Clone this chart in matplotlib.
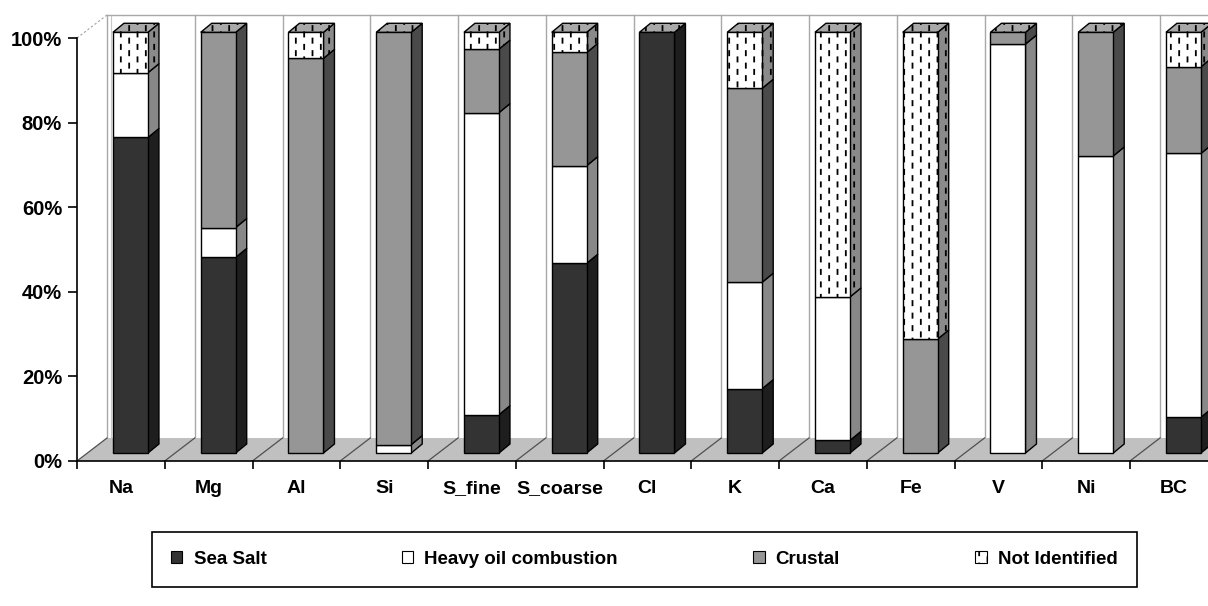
import numpy as np
import matplotlib
matplotlib.use('Agg')
import matplotlib.pyplot as plt
from matplotlib.patches import Polygon, Patch
from matplotlib.path import Path
import matplotlib.hatch as mhatch

# ---------------- data ----------------
categories = ['Na', 'Mg', 'Al', 'Si', 'S_fine', 'S_coarse', 'Cl', 'K', 'Ca', 'Fe', 'V', 'Ni', 'BC']
sea_salt = [75.0, 46.5, 0.0, 0.0, 9.1, 45.1, 100.0, 15.3, 3.0, 0.0, 0.0, 0.0, 8.5]
heavy_oil = [15.4, 7.1, 0.0, 2.0, 71.8, 23.2, 0.0, 25.3, 34.1, 0.0, 97.2, 70.6, 62.7]
crustal = [0.0, 46.4, 93.8, 98.0, 15.1, 26.9, 0.0, 46.1, 0.0, 27.1, 2.8, 29.4, 20.6]
not_identified = [9.6, 0.0, 6.2, 0.0, 4.0, 4.8, 0.0, 13.3, 62.9, 72.9, 0.0, 0.0, 8.2]
series_names = ['Sea Salt', 'Heavy oil combustion', 'Crustal', 'Not Identified']
ytick_values = [0, 20, 40, 60, 80, 100]
ytick_labels = ['0%', '20%', '40%', '60%', '80%', '100%']


# ---------------- dashed hatch (replaces '|') ----------------
class DashHatch(mhatch.HatchPatternBase):
    def __init__(self, hatch, density):
        self.ncol = 12 if hatch.count('|') else 0
        self.nrow = 8
        self.num_vertices = self.ncol * self.nrow * 2

    def set_vertices_and_codes(self, vertices, codes):
        k = 0
        L = 0.042
        for c in range(self.ncol):
            x = (c + 0.5) / self.ncol
            off = 0.5 if c % 2 else 0.0
            for r in range(self.nrow):
                y0 = (r + off) / self.nrow + 0.01
                vertices[k] = (x, y0)
                vertices[k + 1] = (x, y0 + L)
                codes[k] = Path.MOVETO
                codes[k + 1] = Path.LINETO
                k += 2


mhatch._hatch_types = [DashHatch if t is mhatch.VerticalHatch else t
                       for t in mhatch._hatch_types]

plt.rcParams['font.family'] = ['Liberation Sans', 'DejaVu Sans']
plt.rcParams['font.weight'] = 'bold'
plt.rcParams['hatch.linewidth'] = 1.3

W, H = 1208, 606
fig = plt.figure(figsize=(W / 100, H / 100), dpi=100)
ax = fig.add_axes([77 / W, 145 / H, 1140.75 / W, 423 / H])
ax.set_xlim(-0.5, 12.5)
ax.set_ylim(0, 100)

# 3D geometry (style constants, in data units)
WX, WY = 0.342, 5.44          # back wall offset
BAR_X0 = 0.41                 # front face left offset from category boundary
BAR_W = 0.399                 # front face width
SX, SY = 0.125, 2.13          # bar side depth
BAR_BASE, BAR_SCALE = 1.89, 0.9946

n = len(categories)
bounds = np.arange(n + 1) - 0.5

# floor
floor = Polygon([(-0.5, 0), (n + 1, 0), (n + 1 + WX, WY), (-0.5 + WX, WY)],
                closed=True, facecolor='#c0c0c0', edgecolor='none',
                zorder=0.5, clip_on=False)
ax.add_patch(floor)
for b in bounds:
    ax.plot([b, b + WX], [0, WY], color='#505050', lw=0.9, zorder=0.6, clip_on=False)
    ax.plot([b + WX, b + WX], [WY, 100 + WY], color='#a8a8a8', lw=1.0,
            zorder=0.4, clip_on=False)
ax.plot([-0.5 + WX + 0.045] * 2, [WY, 100 + WY], color='#c8c8c8', lw=0.8,
        zorder=0.4, clip_on=False)
ax.plot([-0.5 + WX, n + 1], [100 + WY, 100 + WY], color='#a8a8a8', lw=1.0,
        zorder=0.4, clip_on=False)
ax.plot([-0.5, -0.5 + WX], [100, 100 + WY], color='#a0a0a0', lw=0.8,
        ls=(0, (2, 2)), zorder=0.4, clip_on=False)

# series styles
front_col = ['#333333', '#ffffff', '#969696', '#ffffff']
side_col = ['#1e1e1e', '#888888', '#4a4a4a', '#8a8a8a']
hatches = [None, None, None, '|']
series = [sea_salt, heavy_oil, crustal, not_identified]

for i in range(n):
    x0 = i - 0.5 + BAR_X0
    x1 = x0 + BAR_W
    cum = 0.0
    for s in range(4):
        v = series[s][i]
        if v <= 0:
            continue
        yb = BAR_BASE + cum * BAR_SCALE
        yt = BAR_BASE + (cum + v) * BAR_SCALE
        front = Polygon([(x0, yb), (x1, yb), (x1, yt), (x0, yt)], closed=True,
                        facecolor=front_col[s], edgecolor='black', lw=1.0,
                        hatch=hatches[s], zorder=3, clip_on=False)
        side = Polygon([(x1, yb), (x1 + SX, yb + SY), (x1 + SX, yt + SY), (x1, yt)],
                       closed=True, facecolor=side_col[s], edgecolor='black', lw=1.0,
                       hatch=hatches[s], zorder=2.9, clip_on=False)
        ax.add_patch(side)
        ax.add_patch(front)
        cum += v
    ytop = BAR_BASE + cum * BAR_SCALE
    top = Polygon([(x0, ytop), (x0 + SX, ytop + SY), (x1 + SX, ytop + SY), (x1, ytop)],
                  closed=True, facecolor='#a8a8a8', edgecolor='black', lw=1.0,
                  hatch='|', zorder=3.1, clip_on=False)
    ax.add_patch(top)

# axes styling
for sp in ['top', 'right']:
    ax.spines[sp].set_visible(False)
for sp in ['left', 'bottom']:
    ax.spines[sp].set_color('black')
    ax.spines[sp].set_linewidth(1.2)
    ax.spines[sp].set_zorder(4)

ax.set_yticks(ytick_values, ytick_labels)
ax.tick_params(axis='y', direction='out', length=6.5, width=1.2, pad=4.3,
               labelsize=14.5, colors='black')
ax.set_xticks(bounds, [''] * len(bounds))
ax.set_xticks(np.arange(n), categories, minor=True)
ax.tick_params(axis='x', which='major', direction='out', length=5.8, width=1.2)
ax.tick_params(axis='x', which='minor', length=0, pad=14, labelsize=14)
for lab in ax.get_xticklabels(minor=True) + ax.get_yticklabels():
    lab.set_fontweight('bold')
ax.patch.set_visible(False)

# legend
handles = [Patch(facecolor=front_col[s], edgecolor='black', lw=0.8,
                 hatch=hatches[s]) for s in range(4)]
leg = fig.legend(handles, series_names, loc='upper left',
                 bbox_to_anchor=(152 / W, 1 - 532 / H), ncol=4, frameon=True,
                 fancybox=False, edgecolor='black', framealpha=1,
                 borderpad=1.0, columnspacing=7.2, handlelength=0.62,
                 handleheight=0.62, handletextpad=0.6, borderaxespad=0,
                 prop={'weight': 'bold', 'size': 13.5})
leg.get_frame().set_linewidth(1.2)

fig.savefig('out.png', dpi=100, facecolor='white')
